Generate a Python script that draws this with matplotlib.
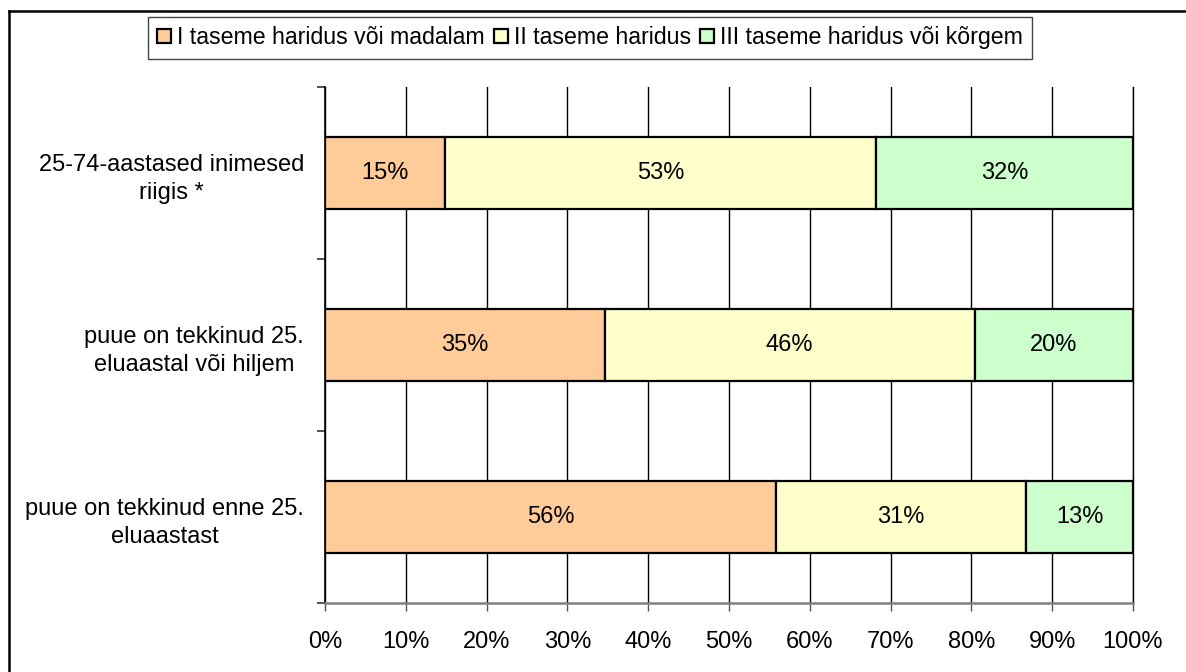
import matplotlib
matplotlib.use('Agg')
import matplotlib.pyplot as plt
from matplotlib.lines import Line2D
import numpy as np

plt.rcParams['font.family'] = ['Liberation Sans', 'DejaVu Sans']

# --- Andmed ---
categories = [
    '25-74-aastased inimesed\nriigis *',
    'puue on tekkinud 25.\neluaastal või hiljem',
    'puue on tekkinud enne 25.\neluaastast',
]
series_names = [
    'I taseme haridus või madalam',
    'II taseme haridus',
    'III taseme haridus või kõrgem',
]
level_1 = [14.8, 34.6, 55.8]
level_2 = [53.4, 45.8, 31.0]
level_3 = [31.8, 19.6, 13.2]
colors = ['#FFCC99', '#FFFFCC', '#CCFFCC']
x_ticks = list(range(0, 101, 10))

FS = 17
W, H = 1186, 672
fig = plt.figure(figsize=(W / 100, H / 100), dpi=100)
ax = fig.add_axes([325 / W, (H - 603) / H, 808 / W, (603 - 87) / H])

y = np.arange(len(categories))
left = np.zeros(len(categories))
for name, vals, col in zip(series_names, [level_1, level_2, level_3], colors):
    vals = np.asarray(vals)
    ax.barh(y, vals, left=left, height=0.42, color=col, edgecolor='black',
            linewidth=1.6, label=name, zorder=3)
    for yi, l, v in zip(y, left, vals):
        ax.text(l + v / 2, yi, f'{v:.0f}%', ha='center', va='center',
                fontsize=FS, zorder=4)
    left = left + vals

ax.set_xlim(0, 100)
ax.set_ylim(len(categories) - 0.5, -0.5)

# Ruudustik
ax.set_xticks(x_ticks)
ax.set_xticklabels([f'{t}%' for t in x_ticks], fontsize=FS)
ax.xaxis.grid(True, color='black', linewidth=1.0, zorder=0)
ax.tick_params(axis='x', length=6, width=1.0, color='#555555', pad=14)

ax.set_yticks(y)
ax.set_yticklabels(categories, fontsize=FS, multialignment='center',
                   linespacing=1.4)
ax.set_yticks(np.arange(-0.5, len(categories)), minor=True)
ax.tick_params(axis='y', which='major', length=0, pad=15)
ax.tick_params(axis='y', which='minor', length=6, width=1.2, color='#333333')

ax.spines['top'].set_visible(False)
ax.spines['right'].set_color('black')
ax.spines['right'].set_linewidth(1.0)
ax.spines['left'].set_color('black')
ax.spines['left'].set_linewidth(1.2)
ax.spines['bottom'].set_color('#808080')
ax.spines['bottom'].set_linewidth(1.8)

# Legend
leg = fig.legend(loc='upper center', bbox_to_anchor=(590 / W, 1 - 17 / H),
                 ncol=3, fontsize=16.7, frameon=True, fancybox=False,
                 edgecolor='#444444', framealpha=1, handlelength=0.6,
                 handleheight=0.6, handletextpad=0.25, columnspacing=0.4,
                 borderpad=0.4, borderaxespad=0)
leg.get_frame().set_linewidth(1.0)

# Välimine raam
fig.add_artist(Line2D([9 / W, 1], [1 - 11 / H, 1 - 11 / H],
                      transform=fig.transFigure, color='black', linewidth=1.8))
fig.add_artist(Line2D([9 / W, 9 / W], [0, 1 - 11 / H],
                      transform=fig.transFigure, color='black', linewidth=1.8))

fig.savefig('out.png', dpi=100)
